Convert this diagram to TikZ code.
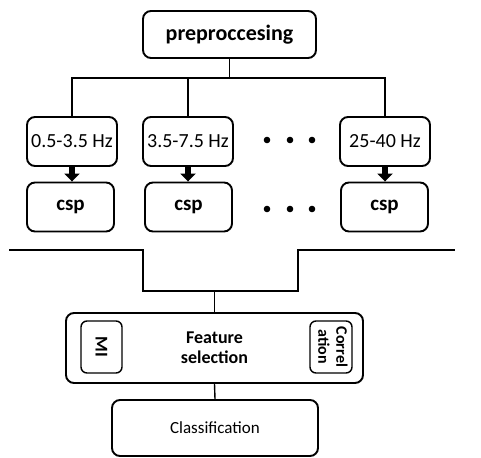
\documentclass[tikz,border=0pt]{standalone}
\usepackage{fontspec}
\setmainfont{Carlito}
\usepackage{tikz}
\usetikzlibrary{positioning,calc,arrows.meta}

\begin{document}
\begin{tikzpicture}[x=1pt,y=-1pt,
  box node/.style={rectangle, draw, rounded corners=8pt, line width=1.9pt, align=center, fill=white, inner sep=0pt},
  band node/.style={box node, minimum width=90pt, minimum height=49pt, font=\fontsize{20}{24}\selectfont},
  csp node/.style={box node, minimum width=87pt, minimum height=49pt, font=\fontsize{21}{24}\selectfont\bfseries},
  side node/.style={box node, rounded corners=6pt, minimum width=41pt, minimum height=52pt, line width=1.4pt},
  link/.style={line width=1.4pt},
  block arrow/.style={line width=5.5pt, -{Triangle[width=15pt,length=8pt]}}]

  \useasboundingbox (0,0) rectangle (481,457);

  % top of the chain
  \node [box node, minimum width=173pt, minimum height=47pt, font=\fontsize{22}{26}\selectfont\bfseries] (pre) at (229.5,34.5) {preproccesing};

  \node [band node] (band1) at (72,141.5) {0.5-3.5 Hz};
  \node [band node] (band2) at (188,141.5) {3.5-7.5 Hz};
  \node [band node] (band3) at (385,141.5) {25-40 Hz};

  \node [csp node] (csp1) at (70.5,207) {csp};
  \node [csp node] (csp2) at (188.5,207) {csp};
  \node [csp node] (csp3) at (384.5,207) {csp};

  \foreach \x in {267,290,312} {
    \fill (\x,140) circle (3.3pt);
    \fill (\x,209) circle (3.3pt);
  }

  \draw [link] (pre.south) -- ++(0,19) coordinate (fork);
  \draw [link] (band1.north) |- (fork) -| (band3.north);
  \draw [link] (band2.north) -- (band2.north |- fork);

  \foreach \i in {1,2,3}
    \draw [block arrow] (band\i.south) -- (band\i.south |- csp\i.north);

  % merge line
  \coordinate (busL) at (9,250);
  \coordinate (busR) at (455,250);
  \coordinate (dipL) at (143,291);
  \coordinate (dipR) at (298,291);
  \draw [link] (busL) -| (dipL) -- (dipR) |- (busR);

  % feature selection and classifier
  \node [box node, minimum width=297pt, minimum height=70pt] (fs) at (214.5,348) {};
  \node [font=\fontsize{18}{20}\selectfont\bfseries, align=center] (fslabel) at (fs.center) {Feature\\selection};
  \node [side node, font=\fontsize{18}{18}\selectfont\bfseries] (mi) at (101.5,347) {\rotatebox{-90}{MI}};
  \node [side node, minimum width=42pt, font=\fontsize{16}{18}\selectfont\bfseries] (corr) at (331,347) {\rotatebox{-90}{\begin{tabular}{@{}c@{}}Correl\\ation\end{tabular}}};

  \node [box node, minimum width=206pt, minimum height=56pt, font=\fontsize{17}{20}\selectfont] (cls) at (215,428) {Classification};

  \draw [link] (fs.north) -- (fs.north |- dipR);
  \draw [link] (fs.south) -- (cls.north);
\end{tikzpicture}
\end{document}
